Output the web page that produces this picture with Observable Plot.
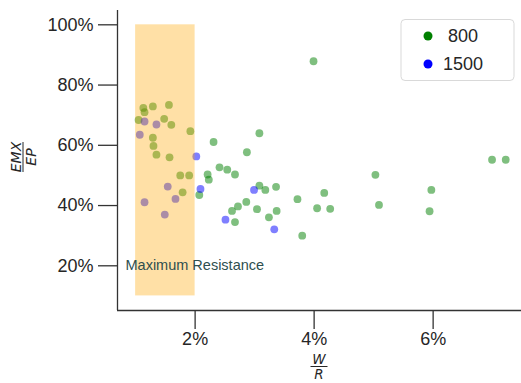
<!DOCTYPE html>
<html><head><meta charset="utf-8">
<script src="https://cdn.jsdelivr.net/npm/d3@7"></script>
<script src="https://cdn.jsdelivr.net/npm/@observablehq/plot@0.6"></script>
<style>body{margin:0;background:#fff}</style>
</head><body><div id="chart"></div>
<script>
// Data (W/R in %, EMX/EP in %)
const series = ["800", "1500"];
const colors = ["#008000", "#0000ff"];
const x800 = [1.13,1.15,1.29,1.56,1.05,1.48,1.60,1.92,1.29,1.30,1.35,1.57,2.31,1.75,1.90,2.21,2.23,1.79,2.07,3.08,2.87,2.41,2.54,2.67,3.08,3.18,3.36,3.72,4.05,2.86,2.72,2.62,3.04,3.37,3.24,2.67,3.80,3.99,5.03,4.17,4.27,5.09,5.97,5.94,6.99,7.22];
const y800 = [72.4,71.0,72.9,73.4,68.4,68.8,66.8,64.7,62.5,59.8,56.9,56.0,61.1,50.0,50.0,50.3,48.6,44.4,43.5,64.0,57.7,52.7,51.9,50.3,46.6,45.2,46.2,42.1,39.1,41.2,39.7,38.2,38.8,38.2,36.1,34.5,30.0,87.9,50.2,44.2,38.9,40.2,45.2,38.1,55.2,55.2];
const x1500 = [1.15,1.35,1.07,2.02,1.54,2.09,1.15,1.67,1.49,2.99,2.51,3.33];
const y1500 = [67.9,66.9,63.5,56.3,46.3,45.5,41.1,42.2,37.0,45.2,35.3,32.1];
const xTicks = [2, 4, 6];
const yTicks = [20, 40, 60, 80, 100];
const bandX = [1, 2];
const bandY = [10, 100];
const bandLabel = "Maximum Resistance";

const rows800 = x800.map((x, i) => ({x, y: y800[i], s: series[0]}));
const rows1500 = x1500.map((x, i) => ({x, y: y1500[i], s: series[1]}));
const bandRows = [{x1: bandX[0], x2: bandX[1], y1: bandY[0], y2: bandY[1]}];

const xDom = [0.6955, 7.485];
const yDom = [5.16, 104.75];
const axisColor = "#333";
const font = "'Liberation Sans', Arial, Helvetica, sans-serif";

const plot = Plot.plot({
  width: 521, height: 383,
  marginLeft: 117, marginRight: 0, marginTop: 10, marginBottom: 73,
  style: {fontFamily: font, background: "#fff", color: "#262626", overflow: "visible"},
  x: {domain: xDom},
  y: {domain: yDom},
  marks: [
    Plot.dot(rows800, {x: "x", y: "y", r: 3.9, fill: colors[0], fillOpacity: 0.5}),
    Plot.dot(rows1500, {x: "x", y: "y", r: 3.9, fill: colors[1], fillOpacity: 0.5}),
    Plot.rect(bandRows, {x1: "x1", x2: "x2", y1: "y1", y2: "y2", fill: "#ffa500", fillOpacity: 0.35}),
    Plot.text([bandLabel], {x: 0.83, y: 20.2, text: d => d, textAnchor: "start", fill: "#2f4f4f", fontSize: 14.5}),
    Plot.ruleX([xDom[0]], {stroke: axisColor, strokeWidth: 1.3}),
    Plot.ruleY([yDom[0]], {stroke: axisColor, strokeWidth: 1.3}),
    Plot.axisX({ticks: xTicks, tickSize: 19, tickPadding: 3, tickFormat: d => d + "%", fontSize: 18, label: null, stroke: axisColor, strokeWidth: 1.3}),
    Plot.axisY({ticks: yTicks, tickSize: 19, tickPadding: 5, tickFormat: d => d + "%", fontSize: 18, label: null, stroke: axisColor, strokeWidth: 1.3})
  ]
});
document.getElementById("chart").appendChild(plot);

const svg = d3.select(plot);
// y label fraction EMX / EP
const yl = svg.append("g").attr("transform", "translate(23,157) rotate(-90)")
  .attr("font-family", "'DejaVu Sans', sans-serif").attr("font-style", "italic").attr("font-size", 14).attr("fill", "#262626");
yl.append("text").attr("x", 0).attr("y", -2.5).attr("text-anchor", "middle").text("EMX");
yl.append("line").attr("x1", -15).attr("x2", 15).attr("y1", 0).attr("y2", 0).attr("stroke", "#262626").attr("stroke-width", 1);
yl.append("text").attr("x", 0).attr("y", 13).attr("text-anchor", "middle").text("EP");
// x label fraction W / R
const xl = svg.append("g").attr("transform", "translate(319,366.5)")
  .attr("font-family", "'DejaVu Sans', sans-serif").attr("font-style", "italic").attr("font-size", 13.5).attr("fill", "#262626");
xl.append("text").attr("x", 0).attr("y", -2.5).attr("text-anchor", "middle").text("W");
xl.append("line").attr("x1", -8.5).attr("x2", 8.5).attr("y1", 0).attr("y2", 0).attr("stroke", "#262626").attr("stroke-width", 1);
xl.append("text").attr("x", 0).attr("y", 12.3).attr("text-anchor", "middle").text("R");
// legend
const lg = svg.append("g").attr("font-family", font).attr("font-size", 18).attr("fill", "#262626");
lg.append("rect").attr("x", 401).attr("y", 19.5).attr("width", 113).attr("height", 61).attr("rx", 4)
  .attr("fill", "#fff").attr("fill-opacity", 0.8).attr("stroke", "#d9d9d9").attr("stroke-width", 1);
series.forEach((s, i) => {
  const cy = 36 + i * 28;
  lg.append("circle").attr("cx", 428).attr("cy", cy).attr("r", 4.5).attr("fill", colors[i]);
  lg.append("text").attr("x", 463).attr("y", cy + 6).text(s);
});
</script>
</body></html>
